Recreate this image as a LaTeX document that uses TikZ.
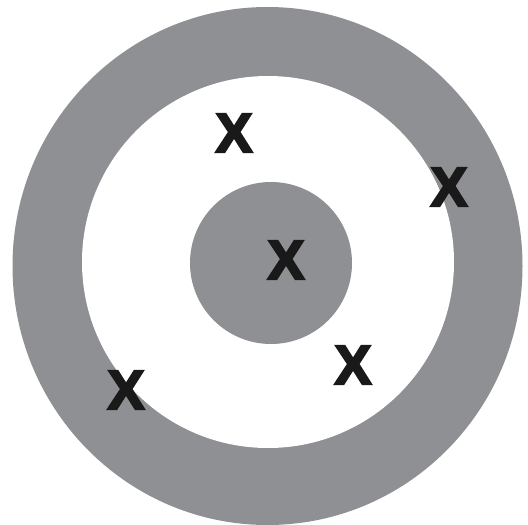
\documentclass[tikz,border=0pt]{standalone}
\usepackage{fontspec}
\setmainfont{Liberation Sans}
\newfontfamily\xfont{Liberation Sans Bold}
\newcommand{\heavyX}{\special{pdf:code q 2 Tr 2.2 w 0.098 0.098 0.098 RG}X\special{pdf:code Q}}
\definecolor{ringgray}{RGB}{142,144,147}
\definecolor{markblack}{RGB}{25,25,25}
\tikzset{
  xmark/.style={inner sep=0pt, text=markblack, font=\xfont\fontsize{55}{55}\selectfont}
}
\begin{document}
\begin{tikzpicture}[x=1pt,y=-1pt]
\useasboundingbox (0,0) rectangle (528,525);
\fill[white] (0,0) rectangle (528,525);
\fill[ringgray] (267.5,266) ellipse [x radius=255, y radius=259];
\fill[white] (268,262) circle [radius=186];
\fill[ringgray] (271,263) circle [radius=81];
\node[xmark] (x1) at (234,133) {\heavyX};
\node[xmark] (x2) at (449,187) {\heavyX};
\node[xmark] (x3) at (286,260) {\heavyX};
\node[xmark] (x4) at (353,365) {\heavyX};
\node[xmark] (x5) at (126,390) {\heavyX};
\end{tikzpicture}
\end{document}
